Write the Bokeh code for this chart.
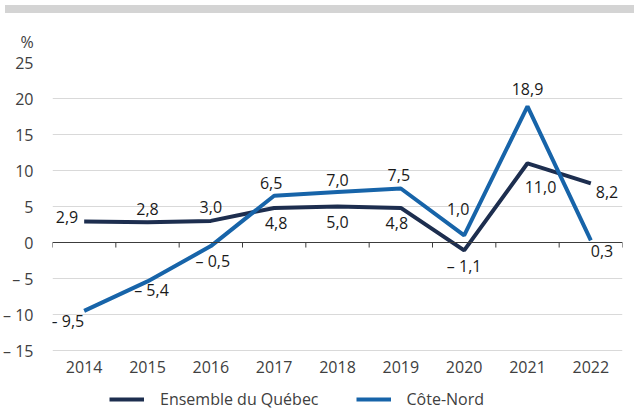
from bokeh.plotting import figure
from bokeh.models import (FactorRange, Range1d, FixedTicker, Span, Legend, LegendItem,
                          ColumnDataSource, Div)
from bokeh.layouts import column
from bokeh.core.properties import value
from bokeh.embed import file_html
from bokeh.resources import INLINE

years = ["2014", "2015", "2016", "2017", "2018", "2019", "2020", "2021", "2022"]
quebec = [2.9, 2.8, 3.0, 4.8, 5.0, 4.8, -1.1, 11.0, 8.2]
cote_nord = [-9.5, -5.4, -0.5, 6.5, 7.0, 7.5, 1.0, 18.9, 0.3]
y_ticks = [-15, -10, -5, 0, 5, 10, 15, 20, 25]

NAVY = "#1d2e4f"
BLUE = "#1764a9"
FONT = value("Open Sans")
FS = "16px"

Y_MIN, Y_MAX = -15, 25
PX_PER_UNIT = 7.2          # 36 px per 5 units
BOTTOM_ROOM = 60           # room inside the frame for year labels + legend


def fmt(v):
    s = f"{abs(v):.1f}".replace(".", ",")
    return ("\u2013 " + s) if v < 0 else s


# label placement (style): align, baseline, x offset, y offset (px, +down)
q_place = [("right", "middle", -6, -5), ("center", "bottom", 0, -7), ("center", "bottom", 0, -8),
           ("center", "top", 2, 9), ("center", "top", 0, 9), ("center", "top", -4, 9),
           ("center", "top", 0, 5), ("center", "top", 13, 18), ("left", "middle", 5, 9)]
c_place = [("right", "top", 0, -1), ("center", "middle", 4, 9), ("center", "middle", 2, 15),
           ("center", "bottom", -3, -7), ("center", "bottom", 0, -6), ("center", "bottom", -2, -8),
           ("center", "bottom", -6, -20), ("center", "bottom", 0, -11), ("left", "middle", 0, 11)]

frame_h = int((Y_MAX - Y_MIN) * PX_PER_UNIT) + BOTTOM_ROOM
p = figure(x_range=FactorRange(*years),
           y_range=Range1d(Y_MIN - BOTTOM_ROOM / PX_PER_UNIT, Y_MAX),
           frame_width=570, frame_height=frame_h,
           min_border_left=50, min_border_right=1, min_border_top=43, min_border_bottom=0,
           output_backend="svg", toolbar_location=None,
           title="%")
p.outline_line_color = None
p.border_fill_color = "white"
p.background_fill_color = "white"

p.title.align = "left"
p.title.offset = -32
p.title.standoff = 20
p.title.text_font = "Open Sans"
p.title.text_font_size = FS
p.title.text_font_style = "normal"
p.title.text_color = "#404040"

p.xgrid.grid_line_color = None
p.ygrid.ticker = FixedTicker(ticks=y_ticks)
p.ygrid.grid_line_color = "#d9d9d9"
p.ygrid.grid_line_width = 1

p.yaxis.ticker = FixedTicker(ticks=y_ticks)
p.yaxis.major_label_overrides = {t: fmt(t).replace(",0", "") for t in y_ticks}
p.yaxis.axis_line_color = None
p.yaxis.major_tick_line_color = None
p.yaxis.minor_tick_line_color = None
p.yaxis.major_label_standoff = 13
p.yaxis.major_label_text_font = "Open Sans"
p.yaxis.major_label_text_font_size = FS
p.yaxis.major_label_text_color = "#404040"

p.xaxis.fixed_location = Y_MIN
p.xaxis.axis_line_color = None
p.xaxis.major_tick_line_color = None
p.xaxis.major_tick_out = 0
p.xaxis.major_tick_in = 0
p.xaxis.major_label_standoff = 10
p.xaxis.major_label_text_font = "Open Sans"
p.xaxis.major_label_text_font_size = FS
p.xaxis.major_label_text_color = "#404040"

# zero line with boundary ticks
p.add_layout(Span(location=0, dimension="width", line_color="#3c3c3c", line_width=1))
bounds = list(range(len(years) + 1))
p.segment(x0=bounds, y0=[0] * len(bounds), x1=bounds, y1=[-0.7] * len(bounds),
          line_color="#3c3c3c", line_width=1)

r1 = p.line(years, quebec, line_color=NAVY, line_width=4)
r2 = p.line(years, cote_nord, line_color=BLUE, line_width=4)

for vals, place in ((quebec, q_place), (cote_nord, c_place)):
    src = ColumnDataSource(dict(
        x=years, y=vals, t=[fmt(v) for v in vals],
        a=[q[0] for q in place], b=[q[1] for q in place],
        xo=[q[2] for q in place], yo=[q[3] for q in place]))
    p.text(x="x", y="y", text="t", source=src, text_align="a", text_baseline="b",
           x_offset="xo", y_offset="yo", text_font=FONT, text_font_size=FS,
           text_color="#1a1a1a")

legend = Legend(items=[LegendItem(label="Ensemble du Québec", renderers=[r1]),
                       LegendItem(label="Côte-Nord", renderers=[r2])],
                orientation="horizontal", location=(57, 0),
                glyph_width=35, glyph_height=16, label_height=16, label_standoff=16, spacing=37,
                padding=0, margin=0, border_line_color=None, background_fill_alpha=0,
                label_text_font="Open Sans", label_text_font_size=FS,
                label_text_color="#404040")
p.add_layout(legend, "center")

band = Div(text="", width=629, height=8, styles={"background-color": "#d4d4d4"})
layout = column(band, p)

open("out.html", "w").write(file_html(layout, INLINE))
